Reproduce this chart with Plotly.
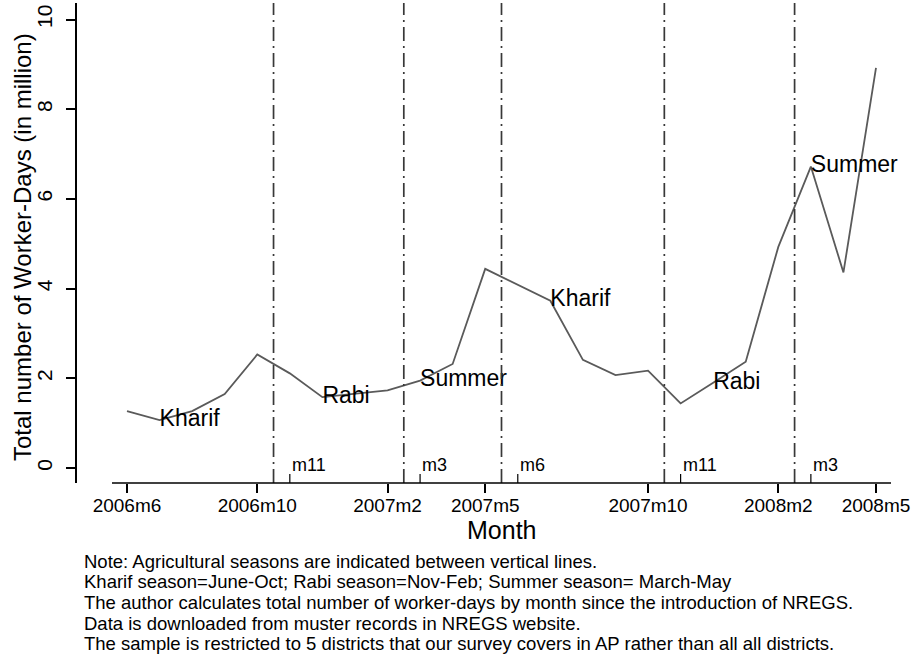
import plotly.graph_objects as go

# ---- data ----
months = ["2006m6", "2006m7", "2006m8", "2006m9", "2006m10", "2006m11", "2006m12",
          "2007m1", "2007m2", "2007m3", "2007m4", "2007m5", "2007m6", "2007m7",
          "2007m8", "2007m9", "2007m10", "2007m11", "2007m12", "2008m1", "2008m2",
          "2008m3", "2008m4", "2008m5"]
worker_days = [1.27, 1.07, 1.27, 1.65, 2.53, 2.11, 1.58, 1.65, 1.73, 1.95, 2.32, 4.44,
               4.09, 3.73, 2.41, 2.07, 2.17, 1.44, 1.90, 2.37, 4.93, 6.72, 4.36, 8.92]
season_labels = {"2006m7": "Kharif", "2006m12": "Rabi", "2007m3": "Summer",
                 "2007m7": "Kharif", "2007m12": "Rabi", "2008m3": "Summer"}
major_ticks = ["2006m6", "2006m10", "2007m2", "2007m5", "2007m10", "2008m2", "2008m5"]
minor_ticks = ["2006m11", "2007m3", "2007m6", "2007m11", "2008m3"]
minor_text = ["m11", "m3", "m6", "m11", "m3"]
# season boundaries (between these month pairs)
boundaries = [("2006m10", "2006m11"), ("2007m2", "2007m3"), ("2007m5", "2007m6"),
              ("2007m10", "2007m11"), ("2008m2", "2008m3")]
y_ticks = [0, 2, 4, 6, 8, 10]
notes = [
    "Note: Agricultural seasons are indicated between vertical lines.",
    "Kharif season=June-Oct; Rabi season=Nov-Feb; Summer season= March-May",
    "The author calculates total number of worker-days by month since the introduction of NREGS.",
    "Data is downloaded from muster records in NREGS website.",
    "The sample is restricted to 5 districts that our survey covers in AP rather than all all districts.",
]

# ---- layout geometry ----
W, H = 913, 657
L, R, T, B = 77, 22, 3, 174
plot_h = H - T - B
FONT = "Liberation Sans, Arial, Helvetica, sans-serif"

def py(ypx):
    return (H - B - ypx) / plot_h

def px_x(xpx):
    return (xpx - L) / (W - L - R)

idx = {m: i for i, m in enumerate(months)}
xs = list(range(len(months)))
texts = [season_labels.get(m, "") for m in months]

fig = go.Figure()
fig.add_trace(go.Scatter(
    x=xs, y=worker_days, mode="lines+text", text=texts,
    textposition="middle right", cliponaxis=False,
    textfont=dict(family=FONT, size=23, color="black"),
    line=dict(color="#5a5a5a", width=1.8),
    showlegend=False, hoverinfo="skip",
))

shapes = []
# vertical dash-dot season lines
for a, b in boundaries:
    xv = (idx[a] + idx[b]) / 2
    shapes.append(dict(type="line", xref="x", yref="paper", x0=xv, x1=xv, y0=0, y1=1,
                       line=dict(color="#383838", width=1.7, dash="14px,5px,2px,5px")))
# x axis line (Stata-style, detached from y axis)
shapes.append(dict(type="line", xref="paper", yref="paper", x0=px_x(112), x1=1, y0=0, y1=0,
                   line=dict(color="black", width=1.5)))
# inner minor labelled ticks
annotations = []
for m, t in zip(minor_ticks, minor_text):
    shapes.append(dict(type="line", xref="x", yref="paper", x0=idx[m], x1=idx[m],
                       y0=0, y1=9 / plot_h, line=dict(color="black", width=1.2)))
    annotations.append(dict(x=idx[m], y=py(465), xref="x", yref="paper", text=t,
                            showarrow=False, xanchor="left", yanchor="middle", xshift=0,
                            font=dict(family=FONT, size=18, color="black")))

# axis titles
annotations.append(dict(x=px_x(501.5), y=py(530), xref="paper", yref="paper", text="Month",
                        showarrow=False, xanchor="center", yanchor="middle",
                        font=dict(family=FONT, size=25, color="black")))
annotations.append(dict(x=px_x(22), y=py(247), xref="paper", yref="paper",
                        text="Total number of Worker-Days (in million)", textangle=-90,
                        showarrow=False, xanchor="center", yanchor="middle",
                        font=dict(family=FONT, size=24, color="black")))
# notes
for i, line in enumerate(notes):
    annotations.append(dict(x=px_x(82), y=py(561 + i * 20.7), xref="paper", yref="paper",
                            text=line, showarrow=False, xanchor="left", yanchor="middle",
                            font=dict(family=FONT, size=18.5, color="black")))

px_per_month = 32.57
px_per_unit = 44.85
x0 = -(127 - L) / px_per_month
x1 = 23 + (W - R - 876) / px_per_month
y0 = -(483 - 468) / px_per_unit
y1 = (468 - T) / px_per_unit

fig.update_layout(
    width=W, height=H,
    margin=dict(l=L, r=R, t=T, b=B, pad=0),
    paper_bgcolor="white", plot_bgcolor="white",
    font=dict(family=FONT, color="black"),
    shapes=shapes, annotations=annotations,
    xaxis=dict(range=[x0, x1], showgrid=False, zeroline=False, showline=False,
               tickmode="array", tickvals=[idx[m] for m in major_ticks], ticktext=major_ticks,
               ticks="outside", ticklen=9, tickwidth=1.5, tickcolor="black",
               ticklabelstandoff=-4,
               tickfont=dict(family=FONT, size=19, color="black")),
    yaxis=dict(range=[y0, y1], showgrid=False, zeroline=False, showline=True,
               linecolor="black", linewidth=1.5, mirror=False,
               tickmode="array", tickvals=y_ticks, ticks="outside", ticklen=9,
               tickwidth=1.5, tickcolor="black", tickangle=-90,
               ticklabelstandoff=6,
               tickfont=dict(family=FONT, size=21, color="black")),
)

fig.write_html("out.html", config={"displayModeBar": False},
               post_script="document.body.style.margin='0';")
